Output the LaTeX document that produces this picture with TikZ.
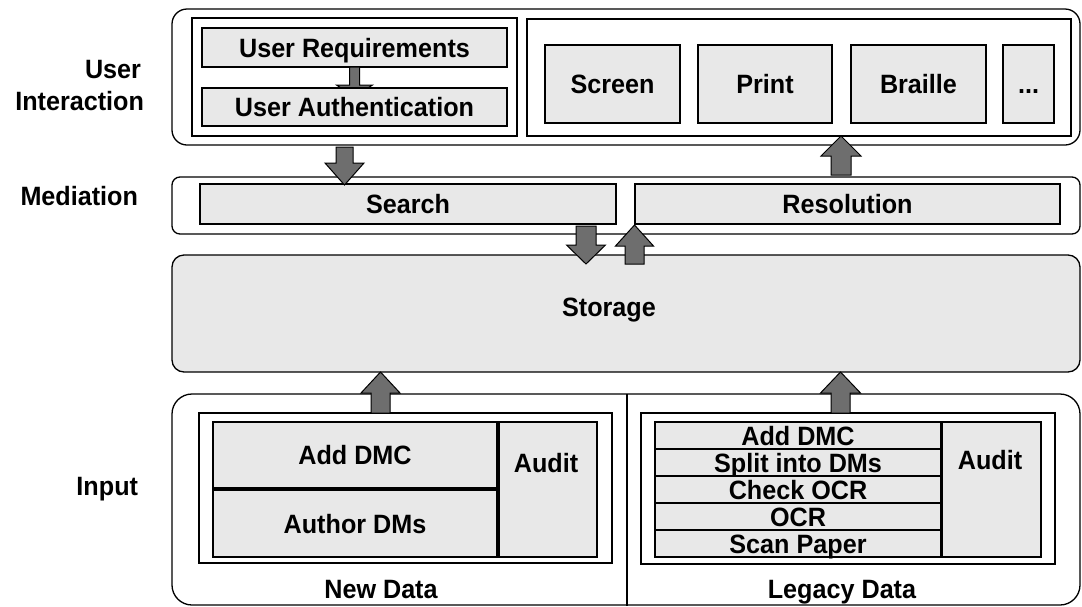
\documentclass[tikz,border=0pt]{standalone}
\usepackage{fontspec}
\setmainfont{Liberation Sans}[FakeStretch=0.95]
\usetikzlibrary{calc}
\definecolor{boxgray}{HTML}{E8E8E8}
\definecolor{arrgray}{HTML}{6E6E6E}
\newcommand\arrdown[5]{\draw[barrow] let \p1=#1, \p2=#2 in
 (\x1-#3,\y1) -- (\x1+#3,\y1) -- (\x1+#3,\y2+#5) -- (\x1+#4,\y2+#5) -- (\x1,\y2) -- (\x1-#4,\y2+#5) -- (\x1-#3,\y2+#5) -- cycle;}
\newcommand\arrup[5]{\draw[barrow] let \p1=#1, \p2=#2 in
 (\x1-#3,\y1) -- (\x1+#3,\y1) -- (\x1+#3,\y2-#5) -- (\x1+#4,\y2-#5) -- (\x1,\y2) -- (\x1-#4,\y2-#5) -- (\x1-#3,\y2-#5) -- cycle;}
\begin{document}
\begin{tikzpicture}[x=1pt,y=-1pt,
 every node/.style={font=\fontsize{26.5}{30}\selectfont\bfseries, inner sep=0pt, outer sep=0pt, text height=19pt, text depth=0pt},
 sz/.style 2 args={minimum width=#1, minimum height=#2},
 outerbox/.style={draw=black, line width=1.3pt, rounded corners=#1},
 wbox/.style={draw=black, line width=1.2pt, fill=white},
 gbox/.style={draw=black, line width=1.2pt, fill=boxgray},
 barrow/.style={draw=black, line width=1pt, fill=arrgray}]
\useasboundingbox (0,0) rectangle (1082,606);
% left labels
\node[anchor=base east] (labUser) at (141,78) {User};
\node[anchor=base east] (labInter) at (144,110) {Interaction};
\node[anchor=base east] (labMed) at (138,205) {Mediation};
\node[anchor=base east] (labIn) at (138,495) {Input};
% user interaction
\node[outerbox=15pt, sz={908pt}{136pt}] (uiOuter) at (626,77) {};
\node[wbox, sz={325pt}{118pt}] (uiLeft) at (354.5,77) {};
\node[gbox, sz={305pt}{39pt}] (req) at (354.5,47.5) {User Requirements};
\arrdown{(req.south)}{($(req.south)+(0,30)$)}{5pt}{18pt}{12pt}
\node[gbox, sz={305pt}{38pt}] (auth) at (354.5,107) {User Authentication};
\node[wbox, sz={544pt}{117pt}] (uiRight) at (799,77.5) {};
\node[gbox, sz={135pt}{78pt}] (screen) at (612.5,84) {Screen};
\node[gbox, sz={134pt}{78pt}] (print) at (765,84) {Print};
\node[gbox, sz={135pt}{78pt}] (braille) at (918.5,84) {Braille};
\node[gbox, sz={51pt}{78pt}] (dots) at (1028.5,84) {...};
% mediation
\node[outerbox=8pt, sz={908pt}{57pt}] (med) at (626,205.5) {};
\node[gbox, sz={416pt}{40pt}] (search) at (408,204) {Search};
\node[gbox, sz={425pt}{40pt}] (resolution) at (847.5,204) {Resolution};
% storage
\node[outerbox=12pt, fill=boxgray, sz={908pt}{117pt}] (storage) at (626,313.5) {};
\node (storageLab) at (609,307) {Storage};
% input
\node[outerbox=20pt, sz={908pt}{211pt}] (inp) at (626,499.5) {};
\coordinate (divx) at (627,0);
\draw[line width=1.2pt] (inp.north -| divx) -- ($(inp.south -| divx)+(0,1)$);
\node[wbox, sz={413pt}{150pt}] (newBox) at (405.5,488) {};
\node[gbox, sz={284pt}{66pt}] (addN) at (355,455) {Add DMC};
\node[gbox, sz={284pt}{67pt}] (authorN) at (355,523.5) {Author DMs};
\node[gbox, sz={98pt}{135pt}] (auditN) at (548,489.5) {};
\node (auditNLab) at (546,463) {Audit};
\node (newLab) at (381,589) {New Data};
\node[wbox, sz={414pt}{151pt}] (legBox) at (848,488.5) {};
\node[gbox, sz={286pt}{27pt}] (r1) at (798,435.5) {Add DMC};
\node[gbox, sz={286pt}{27pt}] (r2) at (798,462.5) {Split into DMs};
\node[gbox, sz={286pt}{27pt}] (r3) at (798,489.5) {Check OCR};
\node[gbox, sz={286pt}{27pt}] (r4) at (798,516.5) {OCR};
\node[gbox, sz={286pt}{27pt}] (r5) at (798,543.5) {Scan Paper};
\node[gbox, sz={99pt}{135pt}] (auditL) at (991.5,489.5) {};
\node (auditLLab) at (990,460) {Audit};
\node (legLab) at (842,589) {Legacy Data};
% block arrows
\coordinate (ax2) at (344.5,0);
\coordinate (ax3) at (841,0);
\coordinate (ax4) at (586,0);
\coordinate (ax5) at (634.5,0);
\coordinate (ax6) at (380.5,0);
\coordinate (ax7) at (840.5,0);
\arrdown{($(uiOuter.south -| ax2)+(0,2)$)}{($(search.north -| ax2)+(0,1)$)}{8.5pt}{19.5pt}{22pt}
\arrup{($(med.north -| ax3)+(0,-2)$)}{(uiRight.south -| ax3)}{10pt}{20pt}{20pt}
\arrdown{($(search.south -| ax4)+(0,2)$)}{($(storage.north -| ax4)+(0,9)$)}{10pt}{19.5pt}{19pt}
\arrup{($(storage.north -| ax5)+(0,9)$)}{($(resolution.south -| ax5)+(0,1)$)}{9.5pt}{19pt}{21pt}
\arrup{(newBox.north -| ax6)}{(storage.south -| ax6)}{9.5pt}{19.5pt}{21pt}
\arrup{(legBox.north -| ax7)}{(storage.south -| ax7)}{9.5pt}{20pt}{21pt}
\end{tikzpicture}
\end{document}
